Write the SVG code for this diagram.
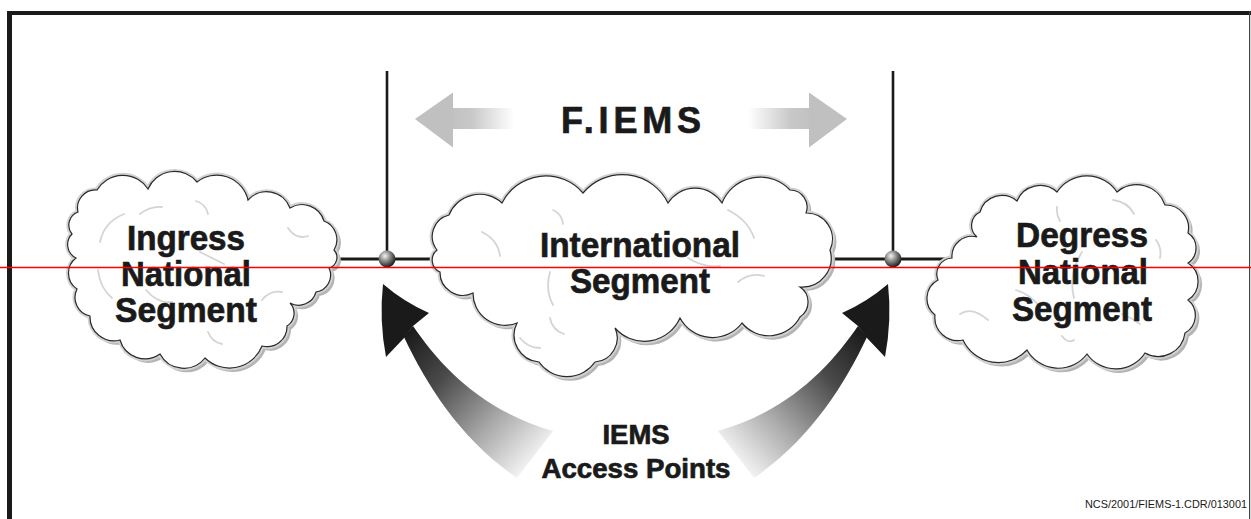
<svg xmlns="http://www.w3.org/2000/svg" xmlns:xlink="http://www.w3.org/1999/xlink" width="1251" height="519" viewBox="0 0 1251 519">
<style>
.t{font-family:'Liberation Sans',Arial,sans-serif;font-weight:bold;fill:#1a1a1a;stroke:#1a1a1a;stroke-width:0.7;text-anchor:middle}
.cl{fill:#fff;stroke:#2a2a2a;stroke-width:1.2}
.halo{fill:none;stroke:#d2d2d2;stroke-width:5}
.sh{fill:#b4b4b4;stroke:#b4b4b4;stroke-width:2}
.in{fill:none;stroke:#d4d4d4;stroke-width:1.8;stroke-linecap:round}
.ln{stroke:#1a1a1a;stroke-width:3;fill:none}
.vl{stroke:#1a1a1a;stroke-width:2.6;fill:none}
</style>
<defs>
<radialGradient id="ball" cx="0.38" cy="0.32" r="0.7">
<stop offset="0" stop-color="#f4f4f4"/>
<stop offset="0.45" stop-color="#8a8a8a"/>
<stop offset="1" stop-color="#151515"/>
</radialGradient>
<linearGradient id="gArrow" gradientUnits="userSpaceOnUse" x1="453" y1="0" x2="514" y2="0">
<stop offset="0" stop-color="#c2c2c2"/>
<stop offset="0.3" stop-color="#c8c8c8"/>
<stop offset="1" stop-color="#ffffff"/>
</linearGradient>
<linearGradient id="bArrow" gradientUnits="userSpaceOnUse" x1="408" y1="332" x2="545" y2="462">
<stop offset="0" stop-color="#1a1a1a"/>
<stop offset="0.3" stop-color="#4a4a4a"/>
<stop offset="0.65" stop-color="#a8a8a8"/>
<stop offset="1" stop-color="#ffffff"/>
</linearGradient>
<path id="cIn" d="M78,212 A18,18 0 0 1 97,190 A30,30 0 0 1 148,189 A29,29 0 0 1 197,182 A32,32 0 0 1 248,200 A25,25 0 0 1 290,208 A23,23 0 0 1 324,221 A20,20 0 0 1 334,250 A11,11 0 0 1 329,268 A17,17 0 0 1 316,292 A18,18 0 0 1 290,303 A15,15 0 0 1 287,326 A20,20 0 0 1 262,346 A35,35 0 0 1 205,358 A27,27 0 0 1 160,354 A26,26 0 0 1 120,340 A24,24 0 0 1 90,316 A19,19 0 0 1 77,289 A19,19 0 0 1 76,258 A15,15 0 0 1 72,234 A14,14 0 0 1 78,212 Z"/>
<path id="cInt" d="M437,250 A22,22 0 0 1 449,215 A33,33 0 0 1 502,203 A49,49 0 0 1 583,193 A51,51 0 0 1 668,203 A32,32 0 0 1 722,203 A41,41 0 0 1 790,190 A17,17 0 0 1 806,213 A26,26 0 0 1 830,250 A29,29 0 0 1 800,287 A18,18 0 0 1 800,317 A35,35 0 0 1 742,323 A37,37 0 0 1 680,318 A39,39 0 0 1 615,328 A24,24 0 0 1 595,362 A34,34 0 0 1 539,362 A27,27 0 0 1 517,323 A32,32 0 0 1 473,293 A23,23 0 0 1 440,272 A13,13 0 0 1 437,250 Z"/>
<path id="cDe" d="M977,237 A15,15 0 0 1 980,212 A23,23 0 0 1 1017,201 A25,25 0 0 1 1057,192 A36,36 0 0 1 1117,192 A30,30 0 0 1 1165,205 A23,23 0 0 1 1188,233 A18,18 0 0 1 1188,263 A22,22 0 0 1 1188,300 A20,20 0 0 1 1185,333 A27,27 0 0 1 1145,353 A35,35 0 0 1 1087,354 A36,36 0 0 1 1027,350 A39,39 0 0 1 963,340 A23,23 0 0 1 935,315 A21,21 0 0 1 938,280 A16,16 0 0 1 952,258 A20,20 0 0 1 977,237 Z"/>
<g id="garrow">
<path d="M453,108 L514,108 L514,129 L453,129 Z" fill="url(#gArrow)"/>
<path d="M415,119 L453,92.5 L453,147.5 Z" fill="#c0c0c0"/>
</g>
<g id="barrow">
<path d="M413,326 C440,365 480,410 553,431 L517,478 C462,440 428,388 404,337 Z" fill="url(#bArrow)"/>
<path d="M383,284 Q404,302 429,313 L413,326 L404,338 L386,357 Q379,320 383,284 Z" fill="#1a1a1a"/>
</g>
</defs>

<g id="frame">
<rect x="7" y="11" width="5" height="508" fill="#1a1a1a"/>
<rect x="7" y="11" width="1244" height="4" fill="#1a1a1a"/>
<rect x="1249" y="11" width="1.2" height="508" fill="#444"/>
</g>

<g id="connectors">
<line class="vl" x1="387" y1="71" x2="387" y2="259"/>
<line class="vl" x1="893" y1="71" x2="893" y2="259"/>
<line class="ln" x1="330" y1="259" x2="446" y2="259"/>
<line class="ln" x1="824" y1="259" x2="960" y2="259"/>
<circle cx="387" cy="259" r="8.5" fill="url(#ball)"/>
<circle cx="893" cy="259" r="8.5" fill="url(#ball)"/>
</g>

<g id="ingress">
<use xlink:href="#cIn" class="sh" transform="translate(3,3)"/>
<use xlink:href="#cIn" class="halo"/>
<use xlink:href="#cIn" class="cl"/>
<path class="in" d="M100,242 Q104,222 124,214 M140,214 Q150,206 162,207 M196,201 Q206,204 208,214 M288,228 Q296,240 308,236 M98,270 Q100,288 112,298 M146,290 Q158,304 172,302 M200,252 Q212,258 224,264 M208,332 Q212,342 222,344 M262,300 Q270,290 282,292"/>
<text class="t" x="186" y="250" font-size="35" textLength="118" lengthAdjust="spacingAndGlyphs">Ingress</text>
<text class="t" x="186" y="286" font-size="35" textLength="130" lengthAdjust="spacingAndGlyphs">National</text>
<text class="t" x="186" y="322" font-size="35" textLength="142" lengthAdjust="spacingAndGlyphs">Segment</text>
</g>

<g id="international">
<use xlink:href="#cInt" class="sh" transform="translate(3,3)"/>
<use xlink:href="#cInt" class="halo"/>
<use xlink:href="#cInt" class="cl"/>
<path class="in" d="M482,232 Q498,240 500,256 M553,210 Q562,214 563,224 M550,272 Q545,290 553,305 M728,210 Q748,220 754,238 M738,282 Q750,272 764,276 M550,318 Q552,330 564,334 M688,258 Q704,268 720,266 M520,338 Q528,348 540,348"/>
<text class="t" x="640" y="257" font-size="35" textLength="200" lengthAdjust="spacingAndGlyphs">International</text>
<text class="t" x="640" y="293" font-size="35" textLength="140" lengthAdjust="spacingAndGlyphs">Segment</text>
</g>

<g id="degress">
<use xlink:href="#cDe" class="sh" transform="translate(3,3)"/>
<use xlink:href="#cDe" class="halo"/>
<use xlink:href="#cDe" class="cl"/>
<path class="in" d="M1113,200 Q1128,202 1134,214 M1057,207 Q1056,214 1060,221 M1082,252 Q1068,274 1074,298 M960,314 Q972,306 988,320 M1016,290 Q1030,294 1040,307 M1122,314 Q1132,318 1140,324 M1156,240 Q1162,248 1160,258 M1062,336 Q1068,344 1074,340"/>
<text class="t" x="1082" y="247" font-size="35" textLength="132" lengthAdjust="spacingAndGlyphs">Degress</text>
<text class="t" x="1083" y="284" font-size="35" textLength="130" lengthAdjust="spacingAndGlyphs">National</text>
<text class="t" x="1082" y="321" font-size="35" textLength="140" lengthAdjust="spacingAndGlyphs">Segment</text>
</g>

<g id="fiems">
<use xlink:href="#garrow"/>
<use xlink:href="#garrow" transform="translate(1262,0) scale(-1,1)"/>
<text class="t" x="631" y="133" font-size="36" textLength="140">F.IEMS</text>
</g>

<g id="access-points">
<use xlink:href="#barrow"/>
<use xlink:href="#barrow" transform="translate(1271,0) scale(-1,1)"/>
<text class="t" x="636" y="444" font-size="27" textLength="67" lengthAdjust="spacingAndGlyphs">IEMS</text>
<text class="t" x="636" y="478" font-size="27" textLength="189" lengthAdjust="spacingAndGlyphs">Access Points</text>
</g>

<text x="1247" y="508" font-family="'Liberation Sans',Arial,sans-serif" font-size="11" fill="#1a1a1a" text-anchor="end" textLength="162" lengthAdjust="spacingAndGlyphs">NCS/2001/FIEMS-1.CDR/013001</text>

<line x1="0" y1="267.5" x2="1251" y2="267.5" stroke="#ff0000" stroke-width="1.7"/>
</svg>
